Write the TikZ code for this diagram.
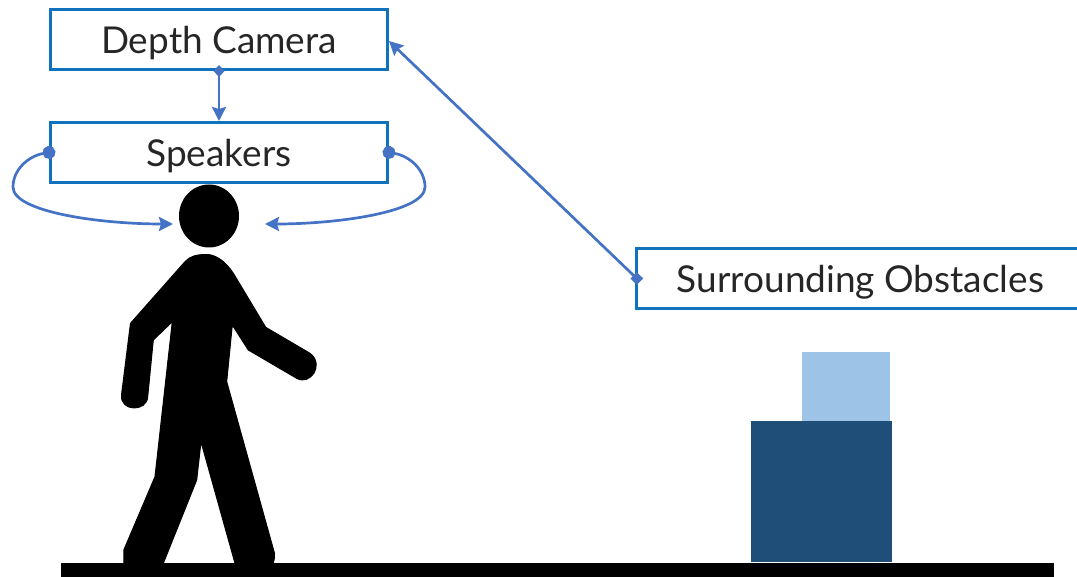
\documentclass[tikz,border=0pt]{standalone}
\usepackage{fontspec}
\setmainfont{Lato}
\usetikzlibrary{arrows.meta,shapes.geometric}
\definecolor{boxblue}{HTML}{1072BD}
\definecolor{linkblue}{HTML}{4472C4}
\definecolor{lightbox}{HTML}{9DC3E6}
\definecolor{darkbox}{HTML}{1F4E79}
\tikzset{
  boxtext/.style={text=black!85,font=\fontsize{37}{40}\selectfont,text height=35.5pt,text depth=7pt},
  labelbox/.style={boxtext,draw=boxblue,line width=3pt,fill=white,inner sep=0pt,minimum width=337pt,minimum height=60pt},
  link/.style={draw=linkblue,line width=2.7pt},
  tipd/.style={{Diamond[length=12pt,width=11pt]}-{Stealth[length=14pt,width=14pt,inset=2pt]},shorten <=-6pt},
  tipc/.style={{Circle[length=13pt,width=13pt]}-{Stealth[length=14pt,width=14pt,inset=2pt]},shorten <=-6.5pt},
  tips/.style={{Square[length=9pt,width=9pt]}-{Stealth[length=14pt,width=14pt,inset=2pt]},shorten <=-4.5pt}
}
\begin{document}
\begin{tikzpicture}[x=1pt,y=-1pt]
\useasboundingbox (0,0) rectangle (1077,577);
\fill[lightbox] (802,352) rectangle (890,421);
\fill[darkbox] (751,421) rectangle (892,562);
% person
\node[ellipse,fill=black,minimum width=60pt,minimum height=63pt,inner sep=0pt] (head) at (209,216) {};
\fill[black,draw=black,line width=1pt,line join=round] (206.7,254.5) .. controls (197,254.5) and (190,256) .. (185,261.7)
 -- (130.5,323.3) -- (121.5,395)
 .. controls (120,412) and (147,412) .. (147.7,396.7)
 -- (153.3,340) -- (172.3,321.7) -- (155,476.7) -- (123.8,550) -- (123.8,563)
 .. controls (123,572) and (135,577) .. (145,577) .. controls (152,577) and (158,572) .. (163.3,563.3)
 -- (196.7,480) -- (201,441.7) -- (235,563.3)
 .. controls (240,572) and (248,577) .. (255,577) .. controls (265,577) and (275,570) .. (274.5,553.3)
 -- (226.7,381.7) -- (232.3,325) -- (248.3,350) -- (296.7,378.3)
 .. controls (310,386) and (325,365) .. (310,353.3)
 -- (265.7,327.3) -- (233.3,273.3)
 .. controls (226,262) and (216,254.5) .. (206.7,254.5) -- cycle;
\fill[black] (61,563) rectangle (1054,576.5);
% boxes
\node[labelbox] (cam) at (219,39.5) {Depth Camera};
\node[labelbox] (spk) at (219,152.5) {Speakers};
\node[boxtext,fill=white,inner sep=0pt,minimum width=440pt,minimum height=60pt] (obs) at (857,278.5) {\hspace*{7pt}Surrounding Obstacles};
\draw[draw=boxblue,line width=3pt] (obs.north east) -- (obs.north west) -- (obs.south west) -- (obs.south east);
% connectors
\coordinate (earL) at (173,224);
\coordinate (earR) at (265,224);
\draw[link,tipd] (cam.south) -- (spk.north);
\draw[link,tipc] (spk.west) .. controls (28,156) and (13,170) .. (13,187) .. controls (13,212) and (100,224) .. (earL);
\draw[link,tipc] (spk.east) .. controls (410,156) and (425,170) .. (425,187) .. controls (425,212) and (338,224) .. (earR);
\draw[link,tips] (obs.west) -- ([yshift=-1.5pt]cam.east);
\end{tikzpicture}
\end{document}
